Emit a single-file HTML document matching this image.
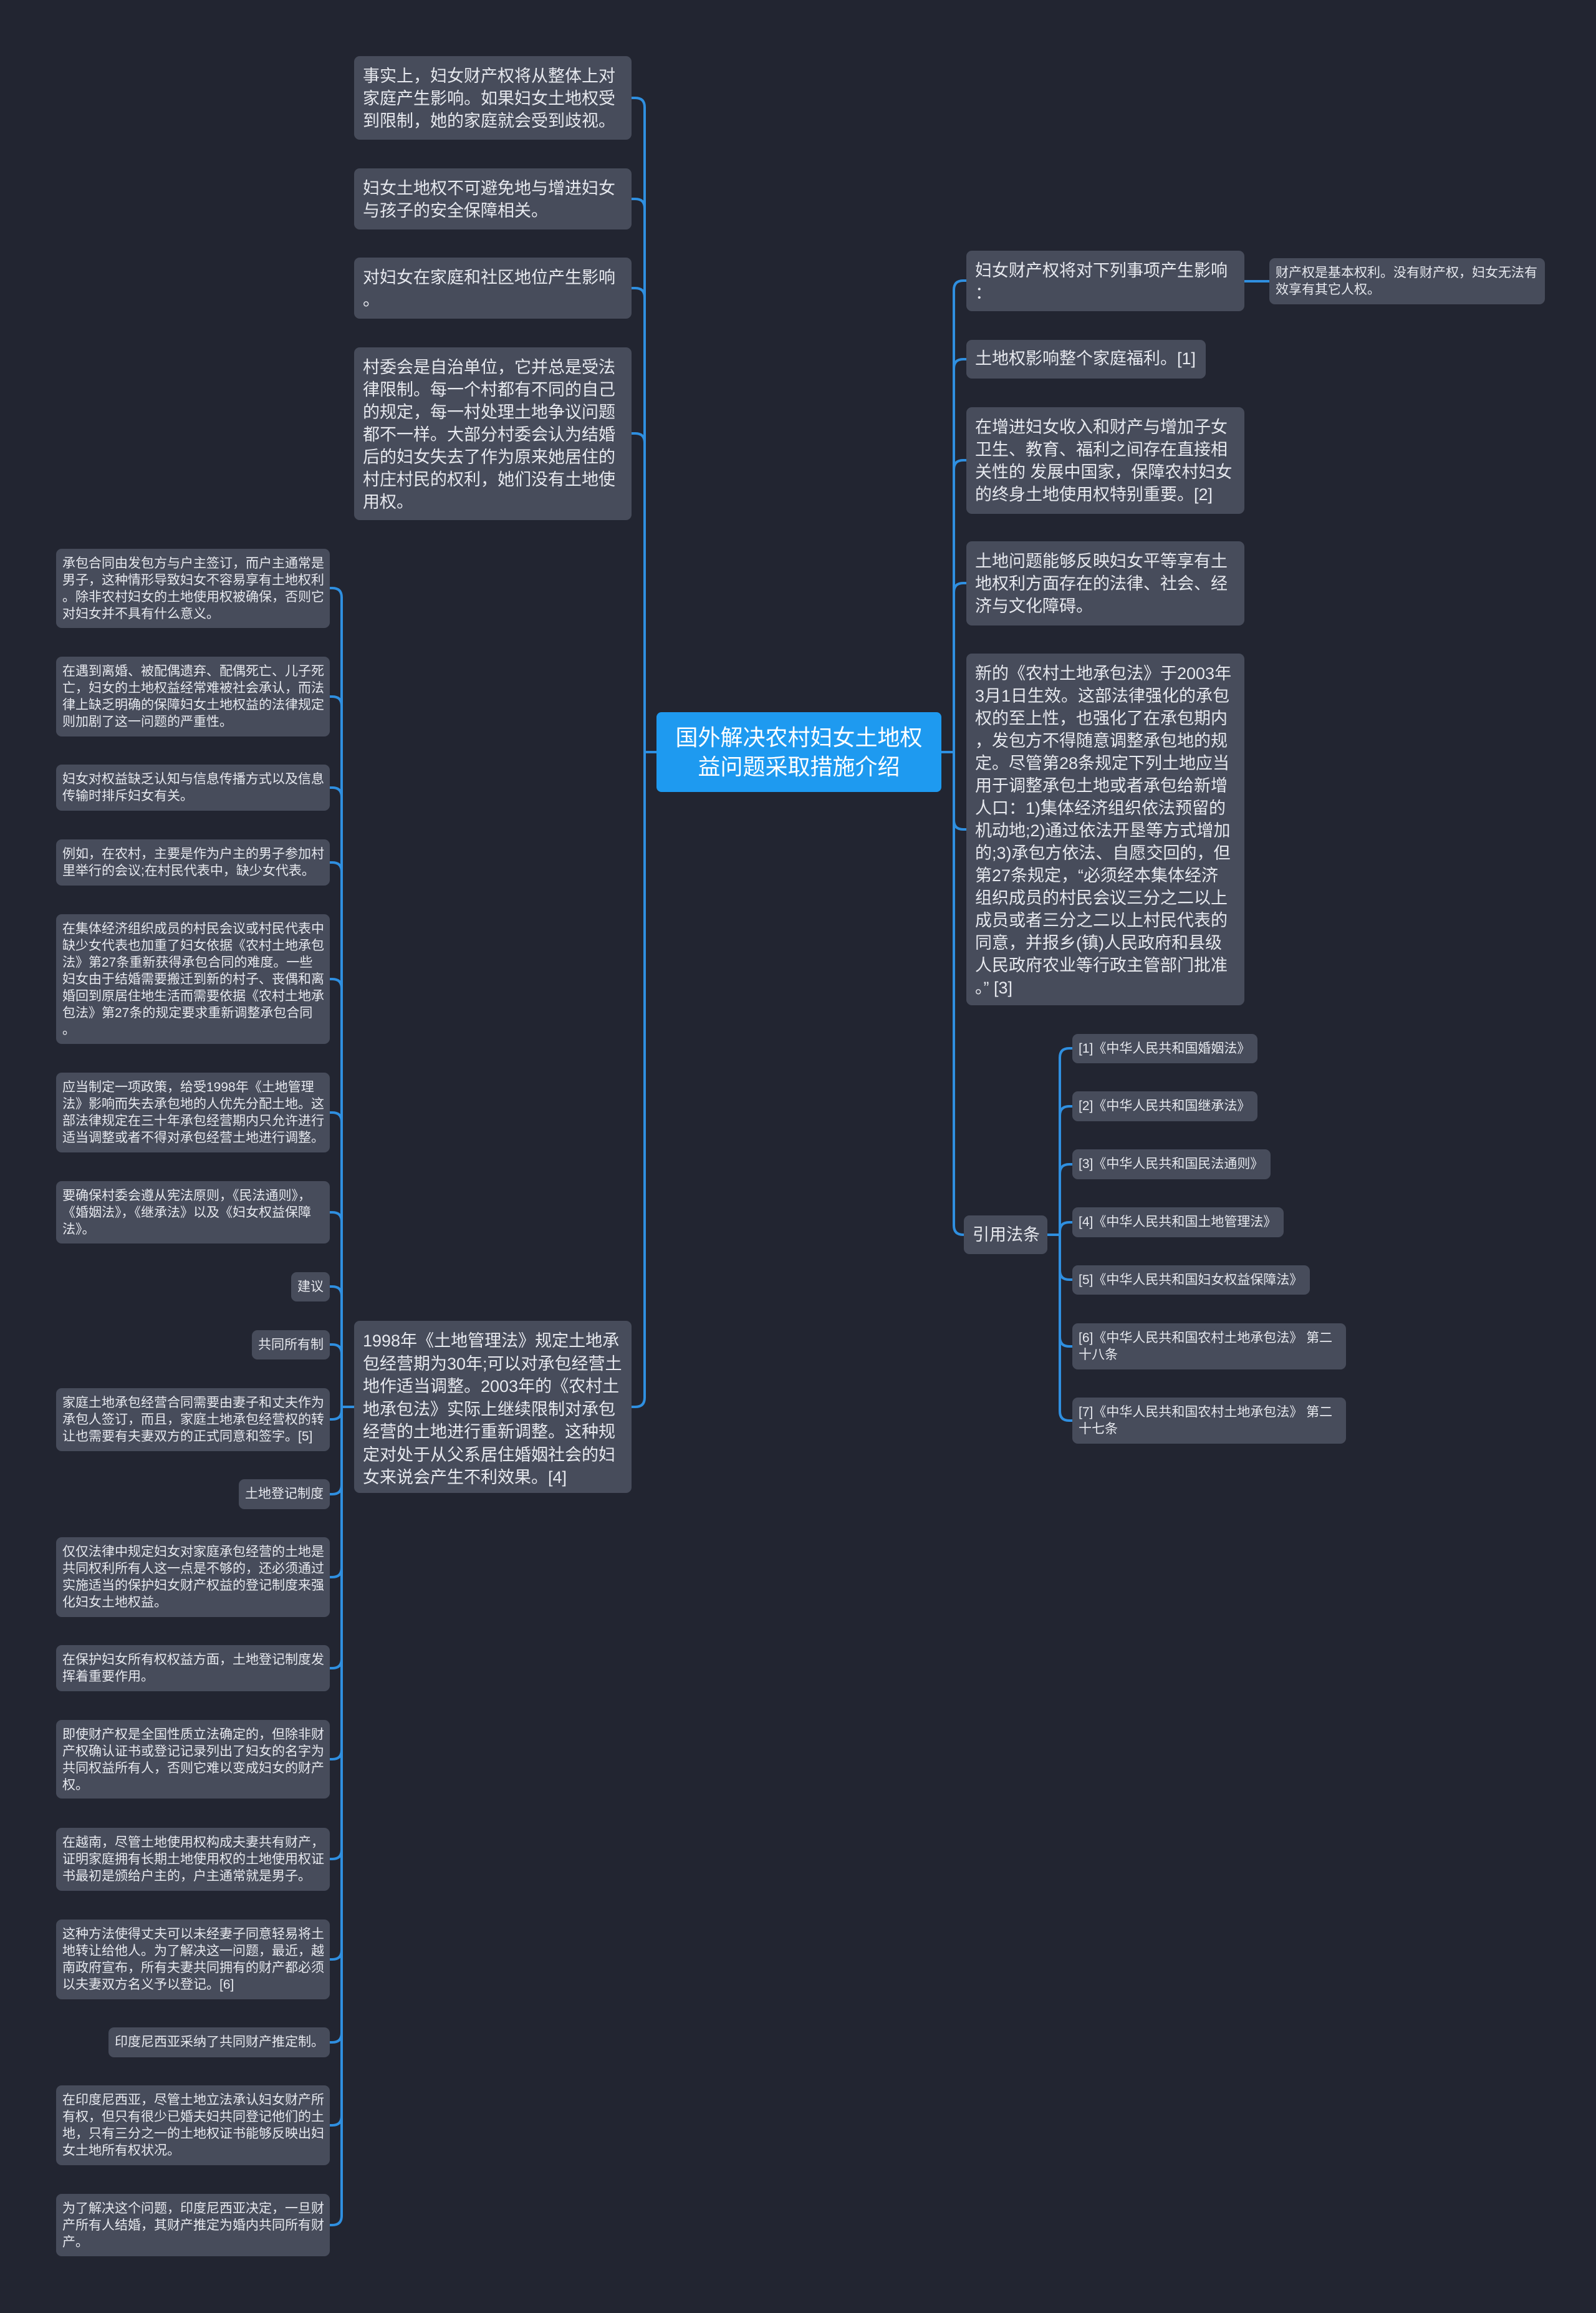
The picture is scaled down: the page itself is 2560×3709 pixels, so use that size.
<!DOCTYPE html>
<html><head><meta charset="utf-8">
<style>
body{margin:0;width:2560px;height:3709px;background:#222531;position:relative;overflow:hidden;font-family:"Liberation Sans","Noto Sans CJK SC",sans-serif;}
.n{position:absolute;background:#474c5b;color:#e6e8ee;border-radius:9px;box-sizing:border-box;white-space:nowrap;}
.L{font-size:27px;line-height:36px;padding:14px 14px;}
.S{font-size:21px;line-height:27px;padding:10px 10px;}
.R{text-align:right;}
svg{position:absolute;left:0;top:0;}
</style></head><body>
<svg width="2560" height="3709" fill="none" stroke="#2f8fe0" stroke-width="4">
<!-- left main spine -->
<path d="M1013 157 H1019 Q1034 157 1034 172 V2241 Q1034 2256 1019 2256 H1013"/>
<path d="M1013 319 H1019 Q1034 319 1034 334"/>
<path d="M1013 462 H1019 Q1034 462 1034 477"/>
<path d="M1013 695 H1019 Q1034 695 1034 710"/>
<path d="M1034 1206 H1053"/>
<!-- right main spine -->
<path d="M1550 450 H1545 Q1530 450 1530 465 V1965 Q1530 1980 1545 1980 H1546"/>
<path d="M1550 576 H1545 Q1530 576 1530 591"/>
<path d="M1550 738 H1545 Q1530 738 1530 753"/>
<path d="M1550 935 H1545 Q1530 935 1530 950"/>
<path d="M1550 1330 H1545 Q1530 1330 1530 1315"/>
<path d="M1510 1206 H1530"/>
<path d="M1996 451 H2036"/>
<!-- citation spine -->
<path d="M1720 1681 H1715 Q1700 1681 1700 1696 V2263 Q1700 2278 1715 2278 H1720"/>
<path d="M1680 1980 H1700"/>
<path d="M1720 1774 H1715 Q1700 1774 1700 1789"/>
<path d="M1720 1867 H1715 Q1700 1867 1700 1882"/>
<path d="M1720 1960 H1715 Q1700 1960 1700 1975"/>
<path d="M1720 2052 H1715 Q1700 2052 1700 2037"/>
<path d="M1720 2159 H1715 Q1700 2159 1700 2144"/>
<!-- small left spine -->
<path d="M529 943 H533 Q548 943 548 958 V3553 Q548 3568 533 3568 H529"/>
<path d="M548 2256 H568"/>
<path d="M529 1117 H533 Q548 1117 548 1132"/>
<path d="M529 1263 H533 Q548 1263 548 1278"/>
<path d="M529 1383 H533 Q548 1383 548 1398"/>
<path d="M529 1570 H533 Q548 1570 548 1585"/>
<path d="M529 1784 H533 Q548 1784 548 1799"/>
<path d="M529 1944 H533 Q548 1944 548 1959"/>
<path d="M529 2063 H533 Q548 2063 548 2078"/>
<path d="M529 2156 H533 Q548 2156 548 2171"/>
<path d="M529 2276 H533 Q548 2276 548 2261"/>
<path d="M529 2396 H533 Q548 2396 548 2381"/>
<path d="M529 2529 H533 Q548 2529 548 2514"/>
<path d="M529 2675 H533 Q548 2675 548 2660"/>
<path d="M529 2821 H533 Q548 2821 548 2806"/>
<path d="M529 2981 H533 Q548 2981 548 2966"/>
<path d="M529 3142 H533 Q548 3142 548 3127"/>
<path d="M529 3275 H533 Q548 3275 548 3260"/>
<path d="M529 3408 H533 Q548 3408 548 3393"/>
</svg>

<div class="n" style="left:1053px;top:1142px;width:457px;height:128px;background:#1e9af0;color:#fff;font-size:36px;line-height:47px;text-align:center;padding-top:17px;border-radius:8px;">国外解决农村妇女土地权<br>益问题采取措施介绍</div>

<div class="n L" style="left:568px;top:90px;width:445px;height:134px;">事实上，妇女财产权将从整体上对<br>家庭产生影响。如果妇女土地权受<br>到限制，她的家庭就会受到歧视。</div>
<div class="n L" style="left:568px;top:270px;width:445px;height:98px;">妇女土地权不可避免地与增进妇女<br>与孩子的安全保障相关。</div>
<div class="n L" style="left:568px;top:413px;width:445px;height:98px;">对妇女在家庭和社区地位产生影响<br>。</div>
<div class="n L" style="left:568px;top:557px;width:445px;height:277px;">村委会是自治单位，它并总是受法<br>律限制。每一个村都有不同的自己<br>的规定，每一村处理土地争议问题<br>都不一样。大部分村委会认为结婚<br>后的妇女失去了作为原来她居住的<br>村庄村民的权利，她们没有土地使<br>用权。</div>
<div class="n L" style="left:568px;top:2118px;width:445px;height:276px;line-height:36.5px;">1998年《土地管理法》规定土地承<br>包经营期为30年;可以对承包经营土<br>地作适当调整。2003年的《农村土<br>地承包法》实际上继续限制对承包<br>经营的土地进行重新调整。这种规<br>定对处于从父系居住婚姻社会的妇<br>女来说会产生不利效果。[4]</div>

<div class="n L" style="left:1550px;top:402px;width:446px;height:97px;">妇女财产权将对下列事项产生影响<br>：</div>
<div class="n S" style="left:2036px;top:414px;width:442px;height:74px;">财产权是基本权利。没有财产权，妇女无法有<br>效享有其它人权。</div>
<div class="n L" style="left:1550px;top:545px;width:384px;height:62px;padding-top:12px;">土地权影响整个家庭福利。[1]</div>
<div class="n L" style="left:1550px;top:653px;width:446px;height:171px;">在增进妇女收入和财产与增加子女<br>卫生、教育、福利之间存在直接相<br>关性的 发展中国家，保障农村妇女<br>的终身土地使用权特别重要。[2]</div>
<div class="n L" style="left:1550px;top:868px;width:446px;height:135px;">土地问题能够反映妇女平等享有土<br>地权利方面存在的法律、社会、经<br>济与文化障碍。</div>
<div class="n L" style="left:1550px;top:1048px;width:446px;height:564px;">新的《农村土地承包法》于2003年<br>3月1日生效。这部法律强化的承包<br>权的至上性，也强化了在承包期内<br>，发包方不得随意调整承包地的规<br>定。尽管第28条规定下列土地应当<br>用于调整承包土地或者承包给新增<br>人口：1)集体经济组织依法预留的<br>机动地;2)通过依法开垦等方式增加<br>的;3)承包方依法、自愿交回的，但<br>第27条规定，“必须经本集体经济<br>组织成员的村民会议三分之二以上<br>成员或者三分之二以上村民代表的<br>同意，并报乡(镇)人民政府和县级<br>人民政府农业等行政主管部门批准<br>。” [3]</div>
<div class="n L" style="left:1546px;top:1949px;width:134px;height:62px;padding-top:13px;">引用法条</div>

<div class="n S" style="left:1720px;top:1658px;width:297px;height:47px;">[1]《中华人民共和国婚姻法》</div>
<div class="n S" style="left:1720px;top:1750px;width:297px;height:48px;">[2]《中华人民共和国继承法》</div>
<div class="n S" style="left:1720px;top:1843px;width:318px;height:48px;">[3]《中华人民共和国民法通则》</div>
<div class="n S" style="left:1720px;top:1936px;width:339px;height:48px;">[4]《中华人民共和国土地管理法》</div>
<div class="n S" style="left:1720px;top:2029px;width:381px;height:47px;">[5]《中华人民共和国妇女权益保障法》</div>
<div class="n S" style="left:1720px;top:2122px;width:439px;height:74px;">[6]《中华人民共和国农村土地承包法》 第二<br>十八条</div>
<div class="n S" style="left:1720px;top:2241px;width:439px;height:74px;">[7]《中华人民共和国农村土地承包法》 第二<br>十七条</div>

<div class="n S" style="left:90px;top:880px;width:439px;height:127px;">承包合同由发包方与户主签订，而户主通常是<br>男子，这种情形导致妇女不容易享有土地权利<br>。除非农村妇女的土地使用权被确保，否则它<br>对妇女并不具有什么意义。</div>
<div class="n S" style="left:90px;top:1053px;width:439px;height:128px;">在遇到离婚、被配偶遗弃、配偶死亡、儿子死<br>亡，妇女的土地权益经常难被社会承认，而法<br>律上缺乏明确的保障妇女土地权益的法律规定<br>则加剧了这一问题的严重性。</div>
<div class="n S" style="left:90px;top:1226px;width:439px;height:74px;">妇女对权益缺乏认知与信息传播方式以及信息<br>传输时排斥妇女有关。</div>
<div class="n S" style="left:90px;top:1346px;width:439px;height:74px;">例如，在农村，主要是作为户主的男子参加村<br>里举行的会议;在村民代表中，缺少女代表。</div>
<div class="n S" style="left:90px;top:1466px;width:439px;height:208px;">在集体经济组织成员的村民会议或村民代表中<br>缺少女代表也加重了妇女依据《农村土地承包<br>法》第27条重新获得承包合同的难度。一些<br>妇女由于结婚需要搬迁到新的村子、丧偶和离<br>婚回到原居住地生活而需要依据《农村土地承<br>包法》第27条的规定要求重新调整承包合同<br>。</div>
<div class="n S" style="left:90px;top:1720px;width:439px;height:128px;">应当制定一项政策，给受1998年《土地管理<br>法》影响而失去承包地的人优先分配土地。这<br>部法律规定在三十年承包经营期内只允许进行<br>适当调整或者不得对承包经营土地进行调整。</div>
<div class="n S" style="left:90px;top:1894px;width:439px;height:100px;">要确保村委会遵从宪法原则，《民法通则》，<br>《婚姻法》，《继承法》以及《妇女权益保障<br>法》。</div>
<div class="n S" style="left:467px;top:2040px;width:62px;height:47px;">建议</div>
<div class="n S" style="left:404px;top:2133px;width:125px;height:47px;">共同所有制</div>
<div class="n S" style="left:90px;top:2226px;width:439px;height:101px;">家庭土地承包经营合同需要由妻子和丈夫作为<br>承包人签订，而且，家庭土地承包经营权的转<br>让也需要有夫妻双方的正式同意和签字。[5]</div>
<div class="n S" style="left:383px;top:2372px;width:146px;height:48px;">土地登记制度</div>
<div class="n S" style="left:90px;top:2465px;width:439px;height:128px;">仅仅法律中规定妇女对家庭承包经营的土地是<br>共同权利所有人这一点是不够的，还必须通过<br>实施适当的保护妇女财产权益的登记制度来强<br>化妇女土地权益。</div>
<div class="n S" style="left:90px;top:2638px;width:439px;height:74px;">在保护妇女所有权权益方面，土地登记制度发<br>挥着重要作用。</div>
<div class="n S" style="left:90px;top:2758px;width:439px;height:126px;">即使财产权是全国性质立法确定的，但除非财<br>产权确认证书或登记记录列出了妇女的名字为<br>共同权益所有人，否则它难以变成妇女的财产<br>权。</div>
<div class="n S" style="left:90px;top:2931px;width:439px;height:101px;">在越南，尽管土地使用权构成夫妻共有财产，<br>证明家庭拥有长期土地使用权的土地使用权证<br>书最初是颁给户主的，户主通常就是男子。</div>
<div class="n S" style="left:90px;top:3078px;width:439px;height:128px;">这种方法使得丈夫可以未经妻子同意轻易将土<br>地转让给他人。为了解决这一问题，最近，越<br>南政府宣布，所有夫妻共同拥有的财产都必须<br>以夫妻双方名义予以登记。[6]</div>
<div class="n S" style="left:174px;top:3251px;width:355px;height:48px;">印度尼西亚采纳了共同财产推定制。</div>
<div class="n S" style="left:90px;top:3344px;width:439px;height:128px;">在印度尼西亚，尽管土地立法承认妇女财产所<br>有权，但只有很少已婚夫妇共同登记他们的土<br>地，只有三分之一的土地权证书能够反映出妇<br>女土地所有权状况。</div>
<div class="n S" style="left:90px;top:3518px;width:439px;height:100px;">为了解决这个问题，印度尼西亚决定，一旦财<br>产所有人结婚，其财产推定为婚内共同所有财<br>产。</div>
</body></html>
